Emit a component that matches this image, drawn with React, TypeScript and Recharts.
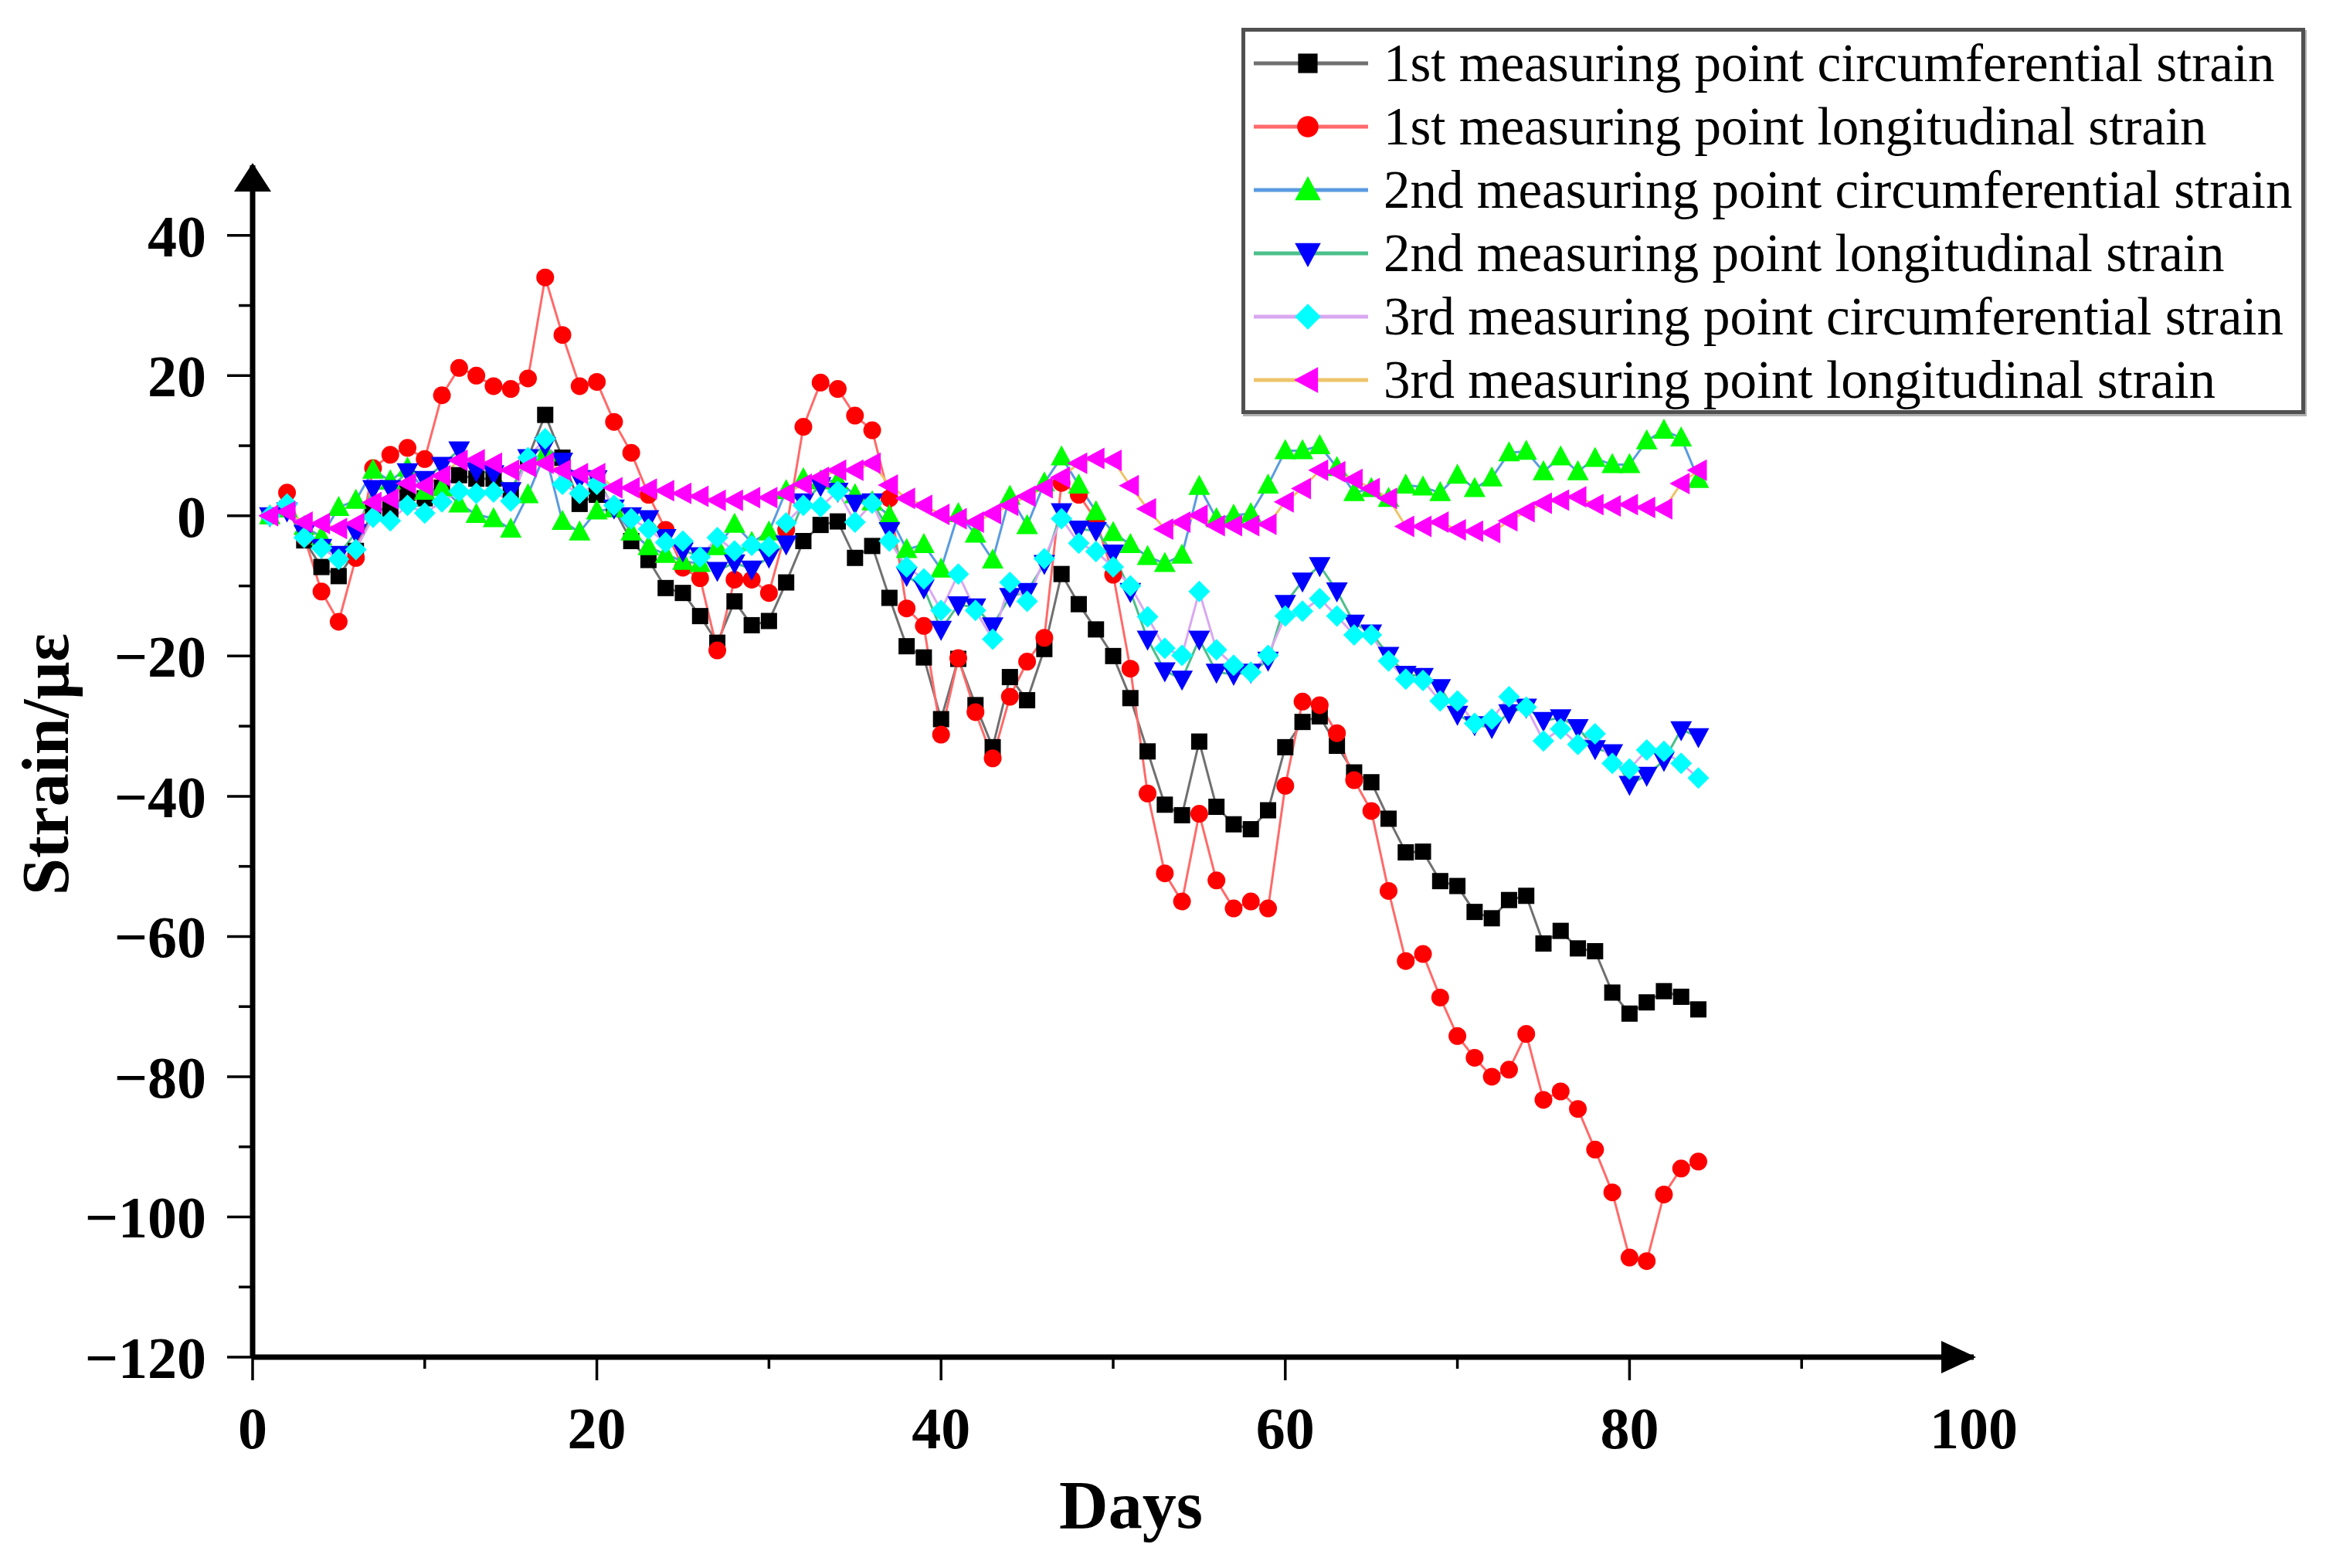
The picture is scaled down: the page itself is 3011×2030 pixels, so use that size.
import React from 'react';
import { LineChart, Line, XAxis, YAxis, Legend, ReferenceDot } from 'recharts';

const FONT = '"Liberation Serif", "Times New Roman", serif';

const days = [
  1, 2, 3, 4, 5, 6, 7, 8, 9, 10, 11, 12, 13, 14, 15, 16, 17, 18, 19, 20, 21,
  22, 23, 24, 25, 26, 27, 28, 29, 30, 31, 32, 33, 34, 35, 36, 37, 38, 39, 40, 41, 42,
  43, 44, 45, 46, 47, 48, 49, 50, 51, 52, 53, 54, 55, 56, 57, 58, 59, 60, 61, 62, 63,
  64, 65, 66, 67, 68, 69, 70, 71, 72, 73, 74, 75, 76, 77, 78, 79, 80, 81, 82, 83, 84,
];

// 1st measuring point circumferential strain
const circ1 = [
  0, 1, -3.5, -7.3, -8.6, -5, 1, 0.9, 3.3, 2.5, 4, 5.8, 5.3, 5.3, 3.6, 8.3, 14.4, 8.3, 1.7, 3, 1,
  -3.6, -6.3, -10.3, -11, -14.3, -18.1, -12.2, -15.6, -15, -9.5, -3.6, -1.3, -0.8, -6, -4.3, -11.7, -18.6, -20.2, -29, -20.4, -27,
  -33, -23, -26.3, -19, -8.3, -12.6, -16.2, -20, -26, -33.6, -41.2, -42.7, -32.2, -41.5, -44, -44.7, -42, -33, -29.4, -28.6, -32.8,
  -36.6, -38, -43.2, -48, -47.9, -52.1, -52.8, -56.5, -57.4, -54.8, -54.2, -61, -59.2, -61.7, -62.1, -68, -71, -69.4, -67.8, -68.6, -70.4,
];

// 1st measuring point longitudinal strain
const long1 = [
  0, 3.3, -3, -10.8, -15.1, -6, 6.8, 8.7, 9.7, 8.1, 17.2, 21.1, 20, 18.5, 18.1, 19.6, 34, 25.8, 18.5, 19.1, 13.4,
  9, 3, -2, -7.4, -8.9, -19.2, -9.1, -9.1, -11, -2, 12.7, 19, 18.1, 14.3, 12.2, 2.5, -13.2, -15.7, -31.2, -20.3, -28,
  -34.6, -25.8, -20.8, -17.4, 4.7, 3, -0.6, -8.4, -21.8, -39.6, -51, -55, -42.5, -52, -56, -55, -56, -38.5, -26.5, -27, -31,
  -37.7, -42.1, -53.5, -63.5, -62.5, -68.7, -74.2, -77.3, -80, -79, -73.9, -83.3, -82.1, -84.6, -90.4, -96.5, -105.8, -106.3, -96.8, -93.1, -92.1,
];

// 2nd measuring point circumferential strain
const circ2 = [
  0, 1, -1.5, -3, 1.2, 2.2, 6.5, 5, 6.8, 3.5, 4, 1.7, 0.2, -0.4, -1.9, 3, 9, -0.8, -2.3, 0.7, 1,
  -2.3, -4.4, -5.5, -6.5, -6.8, -4.4, -1.2, -3.8, -2.3, 3.6, 5.3, 5, 5, 3, 2, 0, -4.8, -4.1, -7.6, 0.3, -2.6,
  -6.3, 2.8, -1.4, 4.7, 8.4, 4.4, 0.6, -2.4, -4.1, -5.8, -6.8, -5.6, 4.2, -0.4, 0.1, 0.3, 4.4, 9.3, 9.3, 10, 6.9,
  3.3, 3.9, 2.5, 4.4, 4.1, 3.3, 5.8, 3.9, 5.4, 9, 9.2, 6.3, 8.4, 6.3, 8.2, 7.3, 7.3, 10.7, 12.2, 11.1, 5.2,
];

// 2nd measuring point longitudinal strain
const long2 = [
  0, 0.7, -2.5, -4.5, -5.5, -2.4, 3.9, 3.9, 6.3, 5.2, 7.2, 9.4, 6.4, 6, 3.6, 8.3, 10, 7.8, 5.3, 5.3, 1.1,
  0, -0.4, -3.1, -5, -5.7, -7.8, -6.7, -7.6, -5.9, -4, 2, 4.3, 3.5, 1.8, 2, -2.1, -8.5, -10.3, -16.2, -12.7, -13,
  -15.7, -11.5, -10.8, -6.8, 0.6, -1.9, -2.1, -5.3, -10.8, -17.6, -22.1, -23.3, -17.6, -22.3, -22.6, -22.3, -20.6, -12.5, -9.3, -7.1, -10.7,
  -15.3, -16.7, -19.9, -22.6, -22.9, -24.5, -28.3, -29.8, -30.2, -28.1, -27.3, -29.2, -28.8, -30.2, -33.2, -33.8, -38.3, -37, -34.9, -30.5, -31.5,
];

// 3rd measuring point circumferential strain
const circ3 = [
  0, 1.7, -3.1, -4.6, -6.2, -4.8, -0.2, -0.7, 1.5, 0.4, 2, 3.5, 3.2, 3.4, 2.1, 8.3, 11, 4.5, 3.2, 4.5, 1.5,
  -0.4, -1.9, -3.8, -3.6, -5.9, -3.1, -5, -4.2, -4.4, -1, 1.5, 1.3, 3.5, -0.9, 1.8, -3.6, -7.3, -9, -13.5, -8.3, -13.5,
  -17.6, -9.5, -12.2, -6.1, -0.4, -3.9, -5.1, -7.3, -10, -14.4, -18.9, -19.9, -10.8, -19.1, -21.3, -22.3, -19.9, -14.3, -13.6, -11.8, -14.3,
  -17, -17, -20.7, -23.3, -23.5, -26.4, -26.4, -29.6, -29, -25.8, -27.3, -32.1, -30.4, -32.6, -31.1, -35.3, -36.1, -33.4, -33.6, -35.3, -37.4,
];

// 3rd measuring point longitudinal strain
const long3 = [
  0, 0.6, -0.9, -1.1, -1.8, -1.1, 1.9, 2.4, 4.6, 4.3, 5.7, 7.9, 8, 7.5, 6.5, 7, 7.5, 6.5, 6, 6, 4,
  4, 3.8, 3.6, 3.2, 2.8, 2.2, 2.2, 2.6, 2.6, 3.2, 4.5, 5.5, 6.5, 6.5, 7.5, 4.4, 2.5, 1.5, 0.2, -0.4, -0.9,
  0.3, 1.5, 2.8, 4, 5.5, 7.5, 8.2, 7.9, 4.3, 1, -1.9, -0.9, 0.1, -1.4, -1.4, -1.4, -1.2, 2, 3.9, 6.5, 6.3,
  5.2, 3.9, 2.5, -1.5, -1.5, -0.9, -2, -2.2, -2.4, -0.7, 0.6, 1.8, 2.25, 2.7, 1.6, 1.4, 1.6, 1.2, 1, 4.6, 6.5,
];

const xTicks = [0, 10, 20, 30, 40, 50, 60, 70, 80, 90, 100];
const yTicks = [-120, -110, -100, -90, -80, -70, -60, -50, -40, -30, -20, -10, 0, 10, 20, 30, 40];

type Kind = 'square' | 'circle' | 'triUp' | 'triDown' | 'diamond' | 'triLeft';

const SERIES: { key: string; name: string; values: number[]; kind: Kind; fill: string; line: string }[] = [
  { key: 'c1', name: '1st measuring point circumferential strain', values: circ1, kind: 'square', fill: '#000000', line: '#707070' },
  { key: 'l1', name: '1st measuring point longitudinal strain', values: long1, kind: 'circle', fill: '#ff0000', line: '#ff6a6a' },
  { key: 'c2', name: '2nd measuring point circumferential strain', values: circ2, kind: 'triUp', fill: '#00ff00', line: '#5a9be0' },
  { key: 'l2', name: '2nd measuring point longitudinal strain', values: long2, kind: 'triDown', fill: '#0000ff', line: '#4cbf8a' },
  { key: 'c3', name: '3rd measuring point circumferential strain', values: circ3, kind: 'diamond', fill: '#00ffff', line: '#d9a8f0' },
  { key: 'l3', name: '3rd measuring point longitudinal strain', values: long3, kind: 'triLeft', fill: '#ff00ff', line: '#eec46a' },
];

const chartData = days.map((d, i) => {
  const row: Record<string, number> = { day: d };
  SERIES.forEach((s) => {
    row[s.key] = s.values[i];
  });
  return row;
});

function Marker({ kind, cx, cy, fill, s = 1 }: { kind: Kind; cx: number; cy: number; fill: string; s?: number }) {
  if (cx == null || cy == null || isNaN(cx) || isNaN(cy)) return null;
  switch (kind) {
    case 'square':
      return <rect x={cx - 10.5 * s} y={cy - 10.5 * s} width={21 * s} height={21 * s} fill={fill} />;
    case 'circle':
      return <circle cx={cx} cy={cy} r={11.5 * s} fill={fill} />;
    case 'triUp':
      return <polygon points={`${cx},${cy - 15 * s} ${cx + 14 * s},${cy + 11 * s} ${cx - 14 * s},${cy + 11 * s}`} fill={fill} />;
    case 'triDown':
      return <polygon points={`${cx - 14 * s},${cy - 11 * s} ${cx + 14 * s},${cy - 11 * s} ${cx},${cy + 15 * s}`} fill={fill} />;
    case 'diamond':
      return <polygon points={`${cx},${cy - 14 * s} ${cx + 14 * s},${cy} ${cx},${cy + 14 * s} ${cx - 14 * s},${cy}`} fill={fill} />;
    case 'triLeft':
      return <polygon points={`${cx - 15 * s},${cy} ${cx + 11 * s},${cy - 14 * s} ${cx + 11 * s},${cy + 14 * s}`} fill={fill} />;
    default:
      return null;
  }
}

const makeDot = (kind: Kind, fill: string, key: string) => (props: any) => (
  <g key={`${key}-${props.index}`}>
    <Marker kind={kind} cx={props.cx} cy={props.cy} fill={fill} />
  </g>
);

const fmt = (v: number) => (v < 0 ? '\u2212' + Math.abs(v) : String(v));

const Y_TICK_SIZE = 33;
const Y_TICK_MARGIN = 27;
const X_TICK_SIZE = 30;
const X_TICK_MARGIN = 34;

const YTick = (props: any) => {
  const { x, y, payload } = props;
  const v = payload.value as number;
  const major = v % 20 === 0;
  const axisX = x + Y_TICK_SIZE + Y_TICK_MARGIN;
  return (
    <g>
      <line x1={axisX - (major ? 33 : 18)} x2={axisX} y1={y} y2={y} stroke="#000" strokeWidth={3.5} />
      {major && (
        <text x={x} y={y} dy="0.355em" textAnchor="end" fontFamily={FONT} fontWeight="bold" fontSize={76} fill="#000">
          {fmt(v)}
        </text>
      )}
    </g>
  );
};

const XTick = (props: any) => {
  const { x, y, payload } = props;
  const v = payload.value as number;
  const major = v % 20 === 0;
  const axisY = y - X_TICK_SIZE - X_TICK_MARGIN;
  return (
    <g>
      {v < 100 && <line x1={x} x2={x} y1={axisY} y2={axisY + (major ? 30 : 15)} stroke="#000" strokeWidth={3.5} />}
      {major && (
        <text x={x} y={y} dy="0.71em" textAnchor="middle" fontFamily={FONT} fontWeight="bold" fontSize={76} fill="#000">
          {v}
        </text>
      )}
    </g>
  );
};

const YLabel = (props: any) => {
  const vb = props.viewBox || {};
  const x = vb.x + vb.width - 239;
  const y = vb.y + vb.height / 2 + 4;
  return (
    <text x={x} y={y} transform={`rotate(-90, ${x}, ${y})`} textAnchor="middle" fontFamily={FONT} fontWeight="bold" fontSize={86} fill="#000">
      Strain/με
    </text>
  );
};

const XLabel = (props: any) => {
  const vb = props.viewBox || {};
  const x = vb.x + vb.width / 2 + 23;
  const y = vb.y + 221;
  return (
    <text x={x} y={y} textAnchor="middle" fontFamily={FONT} fontWeight="bold" fontSize={88} fill="#000">
      Days
    </text>
  );
};

const RightArrow = (props: any) => {
  const { cx, cy } = props;
  return <polygon points={`${cx + 3},${cy} ${cx - 42},${cy - 21} ${cx - 42},${cy + 21}`} fill="#000" />;
};

const UpArrow = (props: any) => {
  const { cx, cy } = props;
  return <polygon points={`${cx},${cy - 3} ${cx - 24},${cy + 34} ${cx + 24},${cy + 34}`} fill="#000" />;
};

const LegendBox = () => (
  <div
    style={{
      width: 1377,
      height: 500,
      boxSizing: 'border-box',
      border: '5px solid #505050',
      boxShadow: '2px 3px 0 #b0b0b0',
      background: '#fff',
      fontFamily: FONT,
      fontSize: 69,
      color: '#000',
      position: 'relative',
    }}
  >
    {SERIES.map((s, i) => (
      <div
        key={s.key}
        style={{
          position: 'absolute',
          left: 11,
          top: i * 82,
          height: 82,
          display: 'flex',
          alignItems: 'center',
          whiteSpace: 'nowrap',
        }}
      >
        <svg width={148} height={44} style={{ display: 'block' }}>
          <line x1={0} x2={148} y1={22} y2={22} stroke={s.line} strokeWidth={5} />
          <Marker kind={s.kind} cx={70} cy={22} fill={s.fill} s={1.2} />
        </svg>
        <span style={{ marginLeft: 20, lineHeight: 1 }}>{s.name}</span>
      </div>
    ))}
  </div>
);

export default function App() {
  return (
    <div style={{ position: 'absolute', left: 0, top: 0, background: '#fff' }}>
      <LineChart
        width={3011}
        height={2030}
        data={chartData}
        margin={{ top: 214, right: 456, bottom: 272, left: 326 }}
      >
        <XAxis
          dataKey="day"
          type="number"
          domain={[0, 100]}
          ticks={xTicks}
          interval={0}
          height={1}
          tickSize={X_TICK_SIZE}
          tickMargin={X_TICK_MARGIN}
          tickLine={false}
          tick={<XTick />}
          axisLine={{ stroke: '#000', strokeWidth: 7 }}
          allowDataOverflow
          label={XLabel}
        />
        <YAxis
          type="number"
          domain={[-120, 50]}
          ticks={yTicks}
          interval={0}
          width={1}
          tickSize={Y_TICK_SIZE}
          tickMargin={Y_TICK_MARGIN}
          tickLine={false}
          tick={<YTick />}
          axisLine={{ stroke: '#000', strokeWidth: 7 }}
          allowDataOverflow
          label={YLabel}
        />
        {SERIES.map((s) => (
          <Line
            key={s.key}
            type="linear"
            dataKey={s.key}
            name={s.name}
            stroke={s.line}
            strokeWidth={3}
            dot={makeDot(s.kind, s.fill, s.key)}
            activeDot={false}
            isAnimationActive={false}
          />
        ))}
        <ReferenceDot x={100} y={-120} r={0} ifOverflow="visible" shape={RightArrow} />
        <ReferenceDot x={0} y={50} r={0} ifOverflow="visible" shape={UpArrow} />
        <Legend
          layout="vertical"
          align="center"
          verticalAlign="middle"
          content={() => <LegendBox />}
          wrapperStyle={{ left: 1607, top: 36, width: 1377, height: 500 }}
        />
      </LineChart>
    </div>
  );
}
